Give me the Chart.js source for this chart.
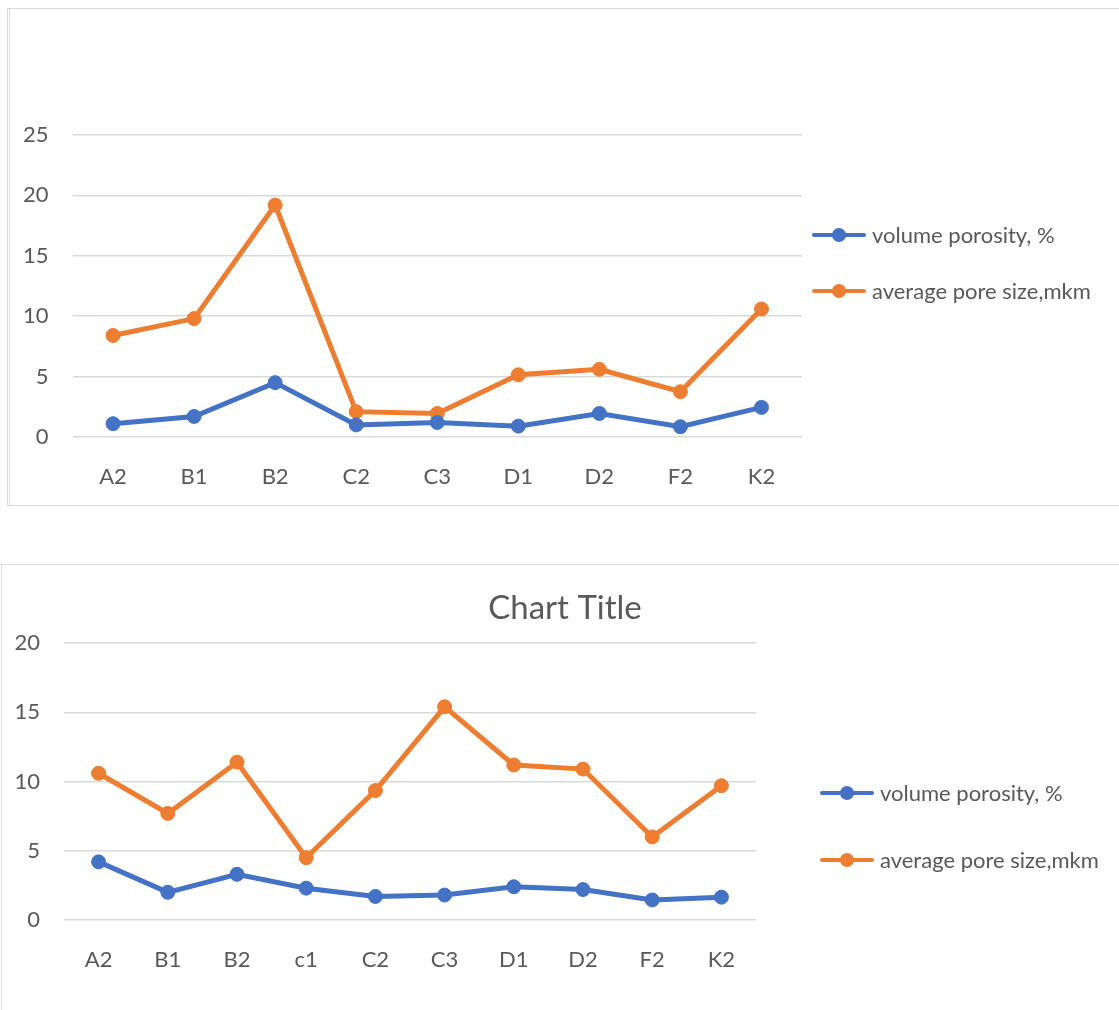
<!DOCTYPE html>
<html>
<head>
<meta charset="utf-8">
<title>Porosity and pore size</title>
<script src="https://cdn.jsdelivr.net/npm/chart.js@4.4.1/dist/chart.umd.min.js"></script>
<style>
  html, body { margin: 0; padding: 0; background: #fff; overflow: hidden; }
  body { position: relative; width: 1119px; height: 1010px; font-family: Lato, 'Open Sans', sans-serif; }
  .frame { position: absolute; box-sizing: border-box; border: 1px solid #d9d9d9; }
  #frame-top { left: 7px; top: 8px; width: 1200px; height: 498px; border-left: 3px double #d9d9d9; }
  #frame-bottom { left: 1px; top: 564px; width: 1200px; height: 520px; }
  .chart-box { position: absolute; left: 0; }
  #box-top { top: 0; }
  #box-bottom { top: 564px; }
  .legend { position: absolute; left: 0; top: 0; margin: 0; padding: 0; list-style: none; }
  .legend li { position: absolute; display: flex; align-items: center; height: 24px; white-space: nowrap;
               color: #595959; font-size: 22px; line-height: 24px; }
  .legend svg { margin-right: 6px; }
</style>
</head>
<body>
<div class="frame" id="frame-top"></div>
<div class="frame" id="frame-bottom"></div>
<div class="chart-box" id="box-top"><canvas id="chartTop" width="1119" height="506"></canvas></div>
<div class="chart-box" id="box-bottom"><canvas id="chartBottom" width="1119" height="446"></canvas></div>
<ul class="legend" id="legendTop"></ul>
<ul class="legend" id="legendBottom"></ul>

<script>
// Series names
const seriesNames = ['volume porosity, %', 'average pore size,mkm'];

// Upper chart
const topCategories = ['A2', 'B1', 'B2', 'C2', 'C3', 'D1', 'D2', 'F2', 'K2'];
const topPorosity = [1.1, 1.7, 4.5, 1.0, 1.2, 0.9, 1.95, 0.85, 2.45];
const topPoreSize = [8.4, 9.8, 19.2, 2.1, 1.95, 5.15, 5.6, 3.75, 10.6];
const topTicks = [0, 5, 10, 15, 20, 25];

// Lower chart
const bottomCategories = ['A2', 'B1', 'B2', 'c1', 'C2', 'C3', 'D1', 'D2', 'F2', 'K2'];
const bottomPorosity = [4.2, 2.0, 3.3, 2.3, 1.7, 1.8, 2.4, 2.2, 1.45, 1.65];
const bottomPoreSize = [10.6, 7.7, 11.4, 4.5, 9.35, 15.4, 11.2, 10.9, 6.0, 9.7];
const bottomTicks = [0, 5, 10, 15, 20];
const bottomTitle = 'Chart Title';

const textColor = '#595959';
const gridColor = '#d9d9d9';
const colors = ['#4472c4', '#ed7d31'];
const font = { family: 'Lato', size: 22 };

function makeDataset(label, data, color) {
    return {
        label: label,
        data: data,
        borderColor: color,
        backgroundColor: color,
        borderWidth: 5,
        pointRadius: 7,
        pointHoverRadius: 7,
        pointBorderWidth: 1,
        pointBackgroundColor: color,
        pointBorderColor: color,
        tension: 0
    };
}

// x and y axes styled like the office default
function makeScales(yTicks, leftWidth, xHeight, xPadding) {
    return {
        x: {
            offset: true,
            ticks: { color: textColor, font: font, padding: xPadding, maxRotation: 0, autoSkip: false },
            grid: { display: false, drawTicks: false },
            border: { display: false },
            afterFit: (scale) => { scale.height = xHeight; }
        },
        y: {
            min: yTicks[0],
            max: yTicks[yTicks.length - 1],
            ticks: { stepSize: yTicks[1] - yTicks[0], color: textColor, font: font, padding: 24 },
            grid: { color: gridColor, lineWidth: 1.5, drawTicks: false },
            border: { display: false },
            afterFit: (scale) => { scale.width = leftWidth; }
        }
    };
}

function initTopChart() {
    const ctx = document.getElementById('chartTop');
    return new Chart(ctx.getContext('2d'), {
        type: 'line',
        data: {
            labels: topCategories,
            datasets: [
                makeDataset(seriesNames[0], topPorosity, colors[0]),
                makeDataset(seriesNames[1], topPoreSize, colors[1])
            ]
        },
        options: {
            responsive: false,
            animation: false,
            layout: { padding: { top: 135, right: 317, left: 0, bottom: 0 } },
            scales: makeScales(topTicks, 72.5, 69, 27),
            plugins: {
                legend: { display: false },
                tooltip: { enabled: false }
            }
        }
    });
}

function initBottomChart() {
    const ctx = document.getElementById('chartBottom');
    const scales = makeScales(bottomTicks, 53, 90, 27);
    // empty axis on the right keeps room for the legend, title stays centred on the frame
    scales.gap = {
        type: 'linear',
        position: 'right',
        ticks: { display: false },
        grid: { display: false },
        border: { display: false },
        afterFit: (scale) => { scale.width = 363; }
    };
    return new Chart(ctx.getContext('2d'), {
        type: 'line',
        data: {
            labels: bottomCategories,
            datasets: [
                makeDataset(seriesNames[0], bottomPorosity, colors[0]),
                makeDataset(seriesNames[1], bottomPoreSize, colors[1])
            ]
        },
        options: {
            responsive: false,
            animation: false,
            layout: { padding: { top: 0, right: 0, left: 11, bottom: 0 } },
            scales: scales,
            plugins: {
                legend: { display: false },
                tooltip: { enabled: false },
                title: {
                    display: true,
                    text: bottomTitle,
                    color: textColor,
                    font: { family: 'Lato', size: 33, weight: 'normal' },
                    padding: { top: 25, bottom: 14.5 }
                }
            }
        }
    });
}

// Legend built from the chart's datasets, placed where the original has it
function buildLegend(chart, listId, left, rowsY) {
    const list = document.getElementById(listId);
    chart.data.datasets.forEach((ds, i) => {
        const li = document.createElement('li');
        li.style.left = left + 'px';
        li.style.top = (rowsY[i] - 12) + 'px';
        li.innerHTML =
            '<svg width="54" height="16">' +
            '<line x1="2" y1="8" x2="52" y2="8" stroke="' + ds.borderColor + '" stroke-width="4" stroke-linecap="round"/>' +
            '<circle cx="27" cy="8" r="7" fill="' + ds.borderColor + '"/></svg>' +
            '<span>' + ds.label + '</span>';
        list.appendChild(li);
    });
}

function initApp() {
    const top = initTopChart();
    const bottom = initBottomChart();
    buildLegend(top, 'legendTop', 812, [235, 291]);
    buildLegend(bottom, 'legendBottom', 820, [793, 860]);
}

document.addEventListener('DOMContentLoaded', initApp);
</script>
</body>
</html>
